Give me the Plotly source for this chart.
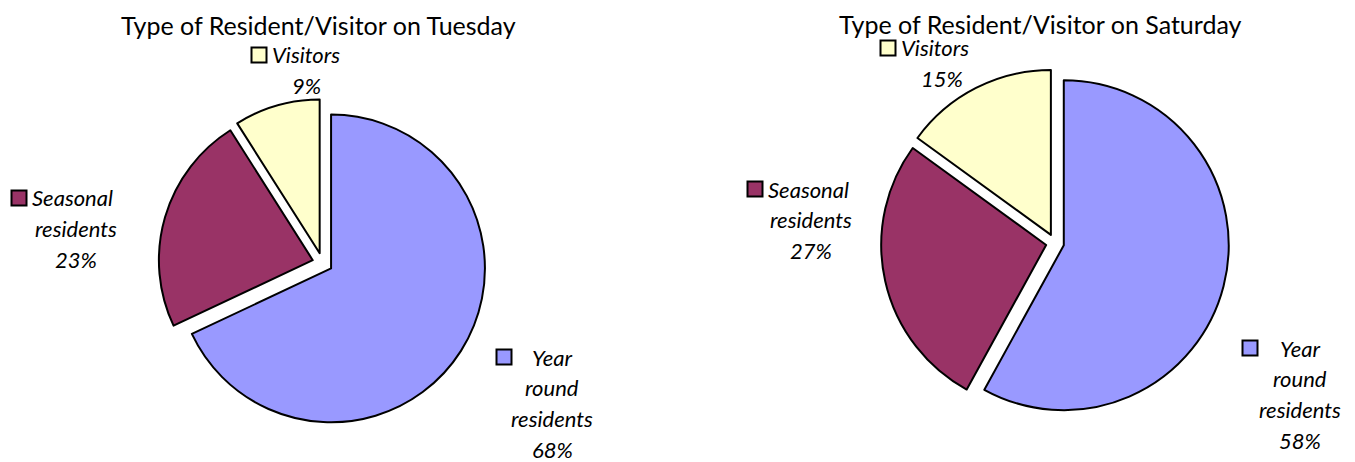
import plotly.graph_objects as go

W, H = 1355, 462
OFFSET = 8  # page body margin around the plot

CATEGORIES = ["Year round residents", "Seasonal residents", "Visitors"]
TUESDAY_PCT = [68, 23, 9]
SATURDAY_PCT = [58, 27, 15]
COLORS = ["#9999FF", "#993366", "#FFFFCC"]

FONT = "Lato"


def px_x(x):
    return (x - OFFSET) / W


def px_y(y):
    return 1 - (y - OFFSET) / H


def label_lines(name, pct):
    if name == "Year round residents":
        return ["Year", "round", "residents", f"{pct}%"]
    if name == "Seasonal residents":
        return ["Seasonal", "residents", f"{pct}%"]
    return ["Visitors", f"{pct}%"]


fig = go.Figure()

fig.add_trace(go.Pie(
    labels=CATEGORIES, values=TUESDAY_PCT, sort=False, direction="clockwise",
    rotation=0, pull=[0.066, 0.066, 0.066], textinfo="none", hoverinfo="label+percent",
    marker=dict(colors=COLORS, line=dict(color="black", width=2)),
    domain=dict(x=[px_x(322.5 - 164), px_x(322.5 + 164)], y=[px_y(263 + 164), px_y(263 - 164)]),
    showlegend=False,
))
fig.add_trace(go.Pie(
    labels=CATEGORIES, values=SATURDAY_PCT, sort=False, direction="clockwise",
    rotation=0, pull=[0.055, 0.055, 0.055], textinfo="none", hoverinfo="label+percent",
    marker=dict(colors=COLORS, line=dict(color="black", width=2)),
    domain=dict(x=[px_x(1055 - 174), px_x(1055 + 174)], y=[px_y(243 + 174), px_y(243 - 174)]),
    showlegend=False,
))

# label anchors: (square centre x, first line y, text column centre x)
label_pos = {
    "Tuesday": {
        "Year round residents": (504, 357, 552),
        "Seasonal residents": (19, 198, 76),
        "Visitors": (259, 55, 306),
    },
    "Saturday": {
        "Year round residents": (1250, 348, 1300),
        "Seasonal residents": (755, 189, 811),
        "Visitors": (888, 48, 942),
    },
}
line_gap = 30.7
sq = 7.5

annotations = []
shapes = []
for day, pcts in (("Tuesday", TUESDAY_PCT), ("Saturday", SATURDAY_PCT)):
    for name, pct, color in zip(CATEGORIES, pcts, COLORS):
        sq_x, y0, cx = label_pos[day][name]
        shapes.append(dict(
            type="rect", xref="paper", yref="paper",
            x0=px_x(sq_x - sq), x1=px_x(sq_x + sq), y0=px_y(y0 + sq), y1=px_y(y0 - sq),
            fillcolor=color, line=dict(color="black", width=2),
        ))
        for i, line in enumerate(label_lines(name, pct)):
            if i == 0 and name != "Year round residents":
                annotations.append(dict(
                    x=px_x(sq_x + sq + 3), y=px_y(y0), xref="paper", yref="paper",
                    text=f"<i>{line}</i>", showarrow=False, xanchor="left", yanchor="middle",
                    font=dict(family=FONT, size=22, color="black"),
                ))
            else:
                annotations.append(dict(
                    x=px_x(cx), y=px_y(y0 + i * line_gap), xref="paper", yref="paper",
                    text=f"<i>{line}</i>", showarrow=False, xanchor="center", yanchor="middle",
                    font=dict(family=FONT, size=22, color="black"),
                ))

for title, cx, cy in (("Type of Resident/Visitor on Tuesday", 318, 25),
                      ("Type of Resident/Visitor on Saturday", 1040, 24)):
    annotations.append(dict(
        x=px_x(cx), y=px_y(cy), xref="paper", yref="paper", text=title,
        showarrow=False, xanchor="center", yanchor="middle", borderpad=0,
        font=dict(family=FONT, size=25, color="black"),
    ))

fig.update_layout(
    width=W, height=H, margin=dict(l=0, r=0, t=0, b=0),
    paper_bgcolor="white", plot_bgcolor="white",
    annotations=annotations, shapes=shapes,
)

fig.write_html("out.html")
